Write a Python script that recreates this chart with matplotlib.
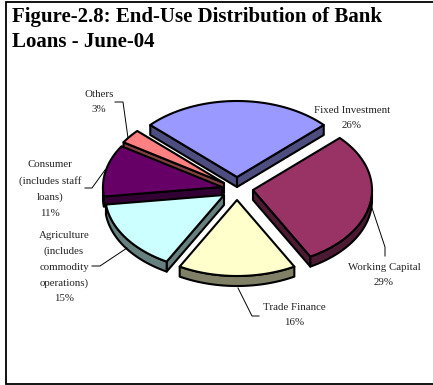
import matplotlib
matplotlib.use('Agg')
import matplotlib.pyplot as plt
import numpy as np

plt.rcParams['font.family'] = ['Liberation Serif', 'DejaVu Serif']

# Loan shares in percent, clockwise from the top left
categories = ['Fixed Investment', 'Working Capital', 'Trade Finance',
              'Agriculture\n(includes\ncommodity\noperations)',
              'Consumer\n(includes staff\nloans)', 'Others']
shares = [26, 29, 16, 15, 11, 3]
top_colors = ['#9999FF', '#993366', '#FFFFCC', '#CCFFFF', '#660066', '#FF8080']
side_colors = ['#4D4D80', '#4D1A33', '#808066', '#668080', '#330033', '#804040']

# Apex of each exploded slice and where its label sits, in pixels
apexes = [(237, 177), (253, 190), (237, 200), (224, 195), (222, 187), (224, 183)]
label_pos = [(352, 118), (384, 275), (294, 315), (64, 267), (50, 189), (99, 102)]

rx, ry, depth = 119, 76, 10
start_angle = 136.8

fig = plt.figure(figsize=(4.33, 3.85), dpi=100)
ax = fig.add_axes([0, 0, 1, 1])
ax.set_xlim(0, 433)
ax.set_ylim(385, 0)
ax.axis('off')

# Chart frame, its right side runs off the edge
ax.add_patch(plt.Rectangle((6, 2), 440, 382, fc='white', ec='black', lw=1.3))

ax.text(12, 17, 'Figure-2.8: End-Use Distribution of Bank', fontsize=15,
        fontweight='bold', va='center', ha='left')
ax.text(12, 42, 'Loans - June-04', fontsize=15, fontweight='bold',
        va='center', ha='left')


def rim(apex, a1, a2):
    t = np.radians(np.linspace(a1, a2, max(int(a2 - a1), 2) + 1))
    return np.column_stack([apex[0] + rx * np.cos(t), apex[1] - ry * np.sin(t)])


def extrude(points, color):
    points = np.asarray(points, dtype=float)
    lower = points[::-1] + [0, depth]
    ax.fill(*np.vstack([points, lower]).T, fc=color, ec='black', lw=1.5,
            joinstyle='round')


def draw_slice(i, a1, a2):
    apex = apexes[i]
    edge = rim(apex, a1, a2)
    # Only the faces turned towards the viewer get a visible side
    if np.cos(np.radians(a1)) > 0:
        extrude([apex, edge[0]], side_colors[i])
    if np.cos(np.radians(a2)) < 0:
        extrude([apex, edge[-1]], side_colors[i])
    lo, hi = max(a1, 180), min(a2, 360)
    if hi > lo:
        extrude(rim(apex, lo, hi), side_colors[i])
    ax.fill(*np.vstack([[apex], edge]).T, fc=top_colors[i], ec='black', lw=1.5,
            joinstyle='round')


# Angles run clockwise from the start, so each slice spans end..begin
ends = start_angle - np.cumsum(shares) * 3.6
begins = np.concatenate([[start_angle], ends[:-1]])
spans = {i: (ends[i], begins[i]) for i in range(len(shares))}
# Everything past the first slice goes below zero, shift it back up
for i in range(1, len(shares)):
    spans[i] = (spans[i][0] + 360, spans[i][1] + 360)

# Back to front
for i in [0, 5, 4, 1, 3, 2]:
    draw_slice(i, *spans[i])

# Leader lines
leaders = [
    [(115, 102), (123, 102), (128, 138)],
    [(372, 208), (385, 247), (385, 256)],
    [(238, 288), (252, 316), (259, 316)],
    [(85, 188), (92, 188), (105, 170)],
    [(92, 266), (100, 266), (127, 248)],
]
for line in leaders:
    ax.plot(*np.array(line).T, color='black', lw=0.7)

for name, share, (x, y) in zip(categories, shares, label_pos):
    ax.text(x, y, f'{name}\n{share}%', fontsize=7.8, ha='center', va='center',
            linespacing=1.9, color='#222222')

fig.savefig('out.png', dpi=100)
